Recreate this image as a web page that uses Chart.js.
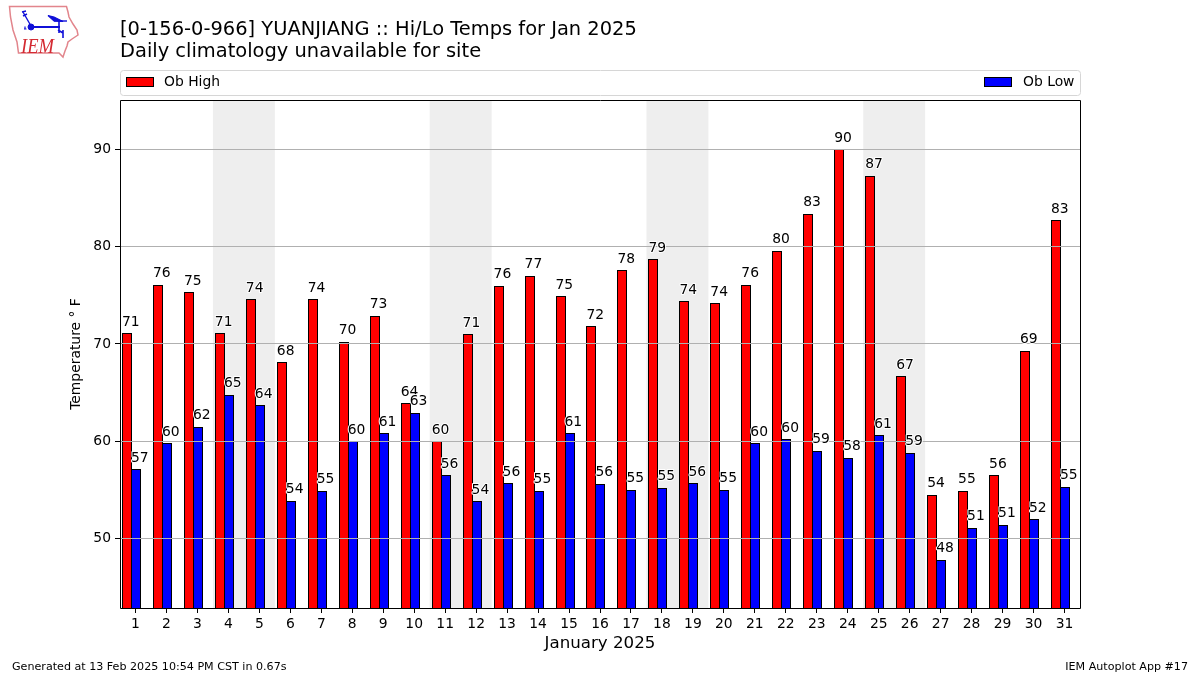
<!DOCTYPE html>
<html>
<head>
<meta charset="utf-8">
<style>
html,body{margin:0;padding:0;background:#fff;width:1200px;height:675px;overflow:hidden}
#wrap{position:relative;width:1200px;height:675px}
canvas{position:absolute;left:0;top:0}
#logo{position:absolute;left:0;top:0}
</style>
<script src="https://cdn.jsdelivr.net/npm/chart.js@4"></script>
</head>
<body>
<div id="wrap">
<canvas id="c" width="1200" height="675"></canvas>
<svg id="logo" width="90" height="65" viewBox="0 0 90 65">
  <path d="M9.5 6.5 L66.5 6.5 L68 12 L69 17 L73 24 L77 30 L78 35 L72 39 L68 42 L67 46 L65 51 L64 54 L63 57 L59 53 L18.5 53 L17 42 L13 30 L10.5 17 Z" fill="none" stroke="#e2858c" stroke-width="1.5"/>
  <g stroke="#1010d8" fill="#1010d8">
    <path d="M31 27 L60 27" stroke-width="2"/>
    <circle cx="31" cy="27" r="3"/>
    <path d="M31 26 L23 12 M22 12 L26 11 M23 16 L27 14" stroke-width="1.4" fill="none"/>
    <path d="M48 15.5 L54 17 L63 21.5 L54 21 Z" stroke-width="1.2"/>
    <path d="M54 21 L67 21" stroke-width="1.4" fill="none"/>
    <path d="M59 20 L59 33 M58 30 L63 33 M63 30 L63 38" stroke-width="1.6" fill="none"/>
    <path d="M24 29 l2.5 0 M25 26.5 l0 2" stroke-width="1.2" fill="none"/>
  </g>
  <text x="21" y="52.5" font-family="Liberation Serif" font-style="italic" font-size="22" textLength="33" lengthAdjust="spacingAndGlyphs" fill="#d42a32">IEM</text>
</svg>
</div>
<script>
const days = [1,2,3,4,5,6,7,8,9,10,11,12,13,14,15,16,17,18,19,20,21,22,23,24,25,26,27,28,29,30,31];
const obHigh = [71.1,76.1,75.3,71.1,74.6,68.1,74.6,70.2,72.9,63.9,60.0,71.0,76.0,77.0,74.9,71.8,77.6,78.7,74.4,74.2,76.1,79.6,83.4,90.0,87.3,66.7,54.5,54.9,56.5,69.3,82.7];
const obLow = [57.1,59.8,61.5,64.8,63.7,53.9,54.9,60.0,60.8,62.9,56.5,53.8,55.7,54.9,60.8,55.6,55.0,55.2,55.7,55.0,59.8,60.2,59.0,58.3,60.6,58.8,47.8,51.1,51.4,52.0,55.3];
const highLabels = [71,76,75,71,74,68,74,70,73,64,60,71,76,77,75,72,78,79,74,74,76,80,83,90,87,67,54,55,56,69,83];
const lowLabels = [57,60,62,65,64,54,55,60,61,63,56,54,56,55,61,56,55,55,56,55,60,60,59,58,61,59,48,51,51,52,55];
const weekendStarts = [4,11,18,25];
const titleLines = ['[0-156-0-966] YUANJIANG :: Hi/Lo Temps for Jan 2025','Daily climatology unavailable for site'];
const footerLeft = 'Generated at 13 Feb 2025 10:54 PM CST in 0.67s';
const footerRight = 'IEM Autoplot App #17';

const FONT = '"DejaVu Sans"';
const BAR_W = 10;
const HIGH_OFF = -0.275, LOW_OFF = 0.016;

const decor = {
  id:'decor',
  beforeDatasetsDraw(ch){
    const {ctx,chartArea:a,scales:{x}} = ch;
    ctx.save();
    ctx.fillStyle='#eeeeee';
    weekendStarts.forEach(d=>{
      const l=x.getPixelForValue(d-0.5), r=x.getPixelForValue(d+1.5);
      ctx.fillRect(l,a.top,r-l,a.bottom-a.top);
    });
    ctx.restore();
    ch.data.datasets.forEach((_,di)=>{
      ch.getDatasetMeta(di).data.forEach(el=>{
        const l=Math.round(el.x-BAR_W/2);
        el.x=l+BAR_W/2;
        el.y=Math.round(el.y);
        el.base=a.bottom+2;
      });
    });
  },
  afterDraw(ch){
    const {ctx,chartArea:a,scales:{x,y}} = ch;
    ctx.save();
    ctx.font='13.89px '+FONT; ctx.textAlign='left'; ctx.textBaseline='alphabetic';
    ctx.lineJoin='round';
    const put=(vals,labs,off)=>{
      vals.forEach((v,i)=>{
        const px=x.getPixelForValue(days[i]+off)-BAR_W/2, py=y.getPixelForValue(v)-7.5;
        ctx.strokeStyle='#fff'; ctx.lineWidth=2; ctx.strokeText(String(labs[i]),px,py);
        ctx.fillStyle='#000'; ctx.fillText(String(labs[i]),px,py);
      });
    };
    put(obHigh,highLabels,HIGH_OFF);
    put(obLow,lowLabels,LOW_OFF);
    ctx.strokeStyle='#000'; ctx.lineWidth=1;
    ctx.strokeRect(a.left+0.5,a.top+0.5,a.right-a.left,a.bottom-a.top);
    ctx.fillStyle='#000'; ctx.font='19.44px '+FONT;
    ctx.fillText(titleLines[0],120,35);
    ctx.fillText(titleLines[1],120,57);
    ctx.strokeStyle='#d6d6d6'; ctx.lineWidth=1;
    ctx.beginPath(); ctx.roundRect(120.5,70.5,960,25,3); ctx.stroke();
    ctx.font='13.89px '+FONT; ctx.fillStyle='#000';
    ctx.fillRect(126,77,28,10);
    ctx.fillStyle='#ff0000'; ctx.fillRect(127,78,26,8);
    ctx.fillStyle='#000'; ctx.fillText(ch.data.datasets[0].label,164,86);
    ctx.fillRect(984,77,28,10);
    ctx.fillStyle='#0000ff'; ctx.fillRect(985,78,26,8);
    ctx.fillStyle='#000'; ctx.fillText(ch.data.datasets[1].label,1023,86);
    ctx.font='11.11px '+FONT; ctx.fillStyle='#000';
    ctx.fillText(footerLeft,12,670);
    ctx.textAlign='right';
    ctx.fillText(footerRight,1188,670);
    ctx.restore();
  }
};

new Chart(document.getElementById('c'),{
  type:'bar',
  data:{datasets:[
    {label:'Ob High',data:obHigh.map((v,i)=>({x:days[i]+HIGH_OFF,y:v})),backgroundColor:'#ff0000',borderColor:'#000',borderWidth:1,barThickness:BAR_W,grouped:false,inflateAmount:0},
    {label:'Ob Low',data:obLow.map((v,i)=>({x:days[i]+LOW_OFF,y:v})),backgroundColor:'#0000ff',borderColor:'#000',borderWidth:1,barThickness:BAR_W,grouped:false,inflateAmount:0}
  ]},
  plugins:[decor],
  options:{
    responsive:false,animation:false,
    layout:{padding:{top:100,right:120,left:0,bottom:0}},
    plugins:{legend:{display:false},title:{display:false},tooltip:{enabled:false}},
    scales:{
      x:{
        type:'linear',min:0.5,max:31.5,offset:false,
        afterFit(s){s.height=67;},
        afterBuildTicks(s){s.ticks=days.map(d=>({value:d}));},
        grid:{display:true,offset:false,drawOnChartArea:false,drawTicks:true,tickLength:5,tickColor:'#000',tickWidth:1},
        border:{display:false},
        ticks:{autoSkip:false,maxRotation:0,color:'#000',font:{family:FONT,size:13.89},padding:3,callback:v=>String(v)},
        title:{display:true,text:'January 2025',color:'#000',font:{family:FONT,size:16.67},padding:{top:0,bottom:21}}
      },
      y:{
        min:42.85,max:95.08,
        afterFit(s){s.width=120;},
        grid:{display:true,drawOnChartArea:true,drawTicks:true,tickLength:5,tickColor:'#000',tickWidth:1,color:'#b0b0b0',z:1},
        border:{display:false},
        ticks:{stepSize:10,includeBounds:false,color:'#000',font:{family:FONT,size:13.89},padding:4},
        title:{display:true,text:'Temperature \u00B0 F',color:'#000',font:{family:FONT,size:13.89},padding:{top:68,bottom:0}}
      }
    }
  }
});
</script>
</body>
</html>
